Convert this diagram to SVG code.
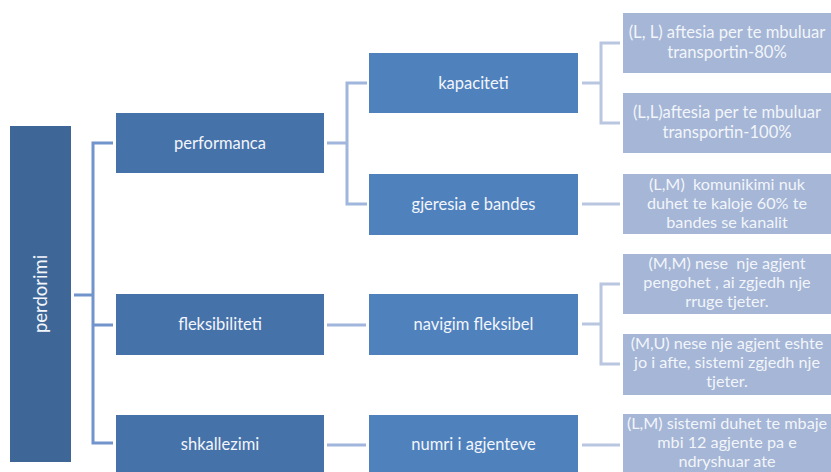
<svg xmlns="http://www.w3.org/2000/svg" width="831" height="472" viewBox="0 0 831 472">
  <style>
    .root { fill: #3e6797; }
    .l1 { fill: #4672aa; }
    .l2 { fill: #4f81bd; }
    .l3 { fill: #a5b6d6; }
    text { font-family: Lato, "Liberation Sans", sans-serif; fill: #f2f5fa; text-anchor: middle; }
    .r { font-size: 18.5px; }
    .t { font-size: 16.5px; }
    .d { font-size: 16.6px; }
    .s { font-size: 16.2px; }
    .c0 { stroke: #7294cc; stroke-width: 3; fill: none; }
    .c1 { stroke: #a1b6dc; stroke-width: 3; fill: none; }
    .c2 { stroke: #b9c6e0; stroke-width: 3; fill: none; }
  </style>

  <g id="connectors">
    <!-- perdorimi to its three children -->
    <path class="c0" d="M74,295 H93 M113,143 H93 V443 H113 M93,325 H113"/>
    <!-- performanca to kapaciteti / gjeresia e bandes -->
    <path class="c1" d="M327,143 H347 M367,83 H347 V204 H367"/>
    <!-- single links on level one -->
    <path class="c1" d="M327,325 H366 M327,445 H366"/>
    <!-- kapaciteti to its two requirements -->
    <path class="c2" d="M582,83 H601 M620,43 H601 V123 H620"/>
    <!-- navigim fleksibel to its two requirements -->
    <path class="c2" d="M582,324 H601 M620,284 H601 V364 H620"/>
    <!-- single links on level two -->
    <path class="c2" d="M582,204 H620 M582,445 H620"/>
  </g>

  <g id="perdorimi">
    <rect class="root" x="10" y="126" width="61" height="336"/>
    <text class="r" transform="translate(47,294) rotate(-90)">perdorimi</text>
  </g>

  <g id="performanca">
    <rect class="l1" x="116" y="113" width="208" height="60"/>
    <text class="t" x="220" y="149">performanca</text>
  </g>
  <g id="fleksibiliteti">
    <rect class="l1" x="116" y="294" width="208" height="61"/>
    <text class="t" x="220" y="330">fleksibiliteti</text>
  </g>
  <g id="shkallezimi">
    <rect class="l1" x="116" y="415" width="208" height="60"/>
    <text class="t" x="220" y="450">shkallezimi</text>
  </g>

  <g id="kapaciteti">
    <rect class="l2" x="369" y="53" width="209" height="60"/>
    <text class="t" x="473.5" y="89">kapaciteti</text>
  </g>
  <g id="gjeresia">
    <rect class="l2" x="369" y="174" width="209" height="61"/>
    <text class="t" x="473.5" y="210">gjeresia e bandes</text>
  </g>
  <g id="navigim">
    <rect class="l2" x="369" y="294" width="209" height="61"/>
    <text class="t" x="473.5" y="330">navigim fleksibel</text>
  </g>
  <g id="numri">
    <rect class="l2" x="369" y="415" width="209" height="60"/>
    <text class="t" x="473.5" y="450">numri i agjenteve</text>
  </g>

  <g id="req-ll-80">
    <rect class="l3" x="623" y="13" width="210" height="60"/>
    <text class="d" x="727" y="38">(L, L) aftesia per te mbuluar</text>
    <text class="d" x="727" y="58">transportin-80%</text>
  </g>
  <g id="req-ll-100">
    <rect class="l3" x="623" y="93" width="210" height="60"/>
    <text class="d" x="727" y="118">(L,L)aftesia per te mbuluar</text>
    <text class="d" x="727" y="138">transportin-100%</text>
  </g>
  <g id="req-lm-bandes">
    <rect class="l3" x="623" y="174" width="210" height="60"/>
    <text class="s" x="727" y="190" xml:space="preserve">(L,M)  komunikimi nuk</text>
    <text class="s" x="727" y="209">duhet te kaloje 60% te</text>
    <text class="s" x="727" y="228">bandes se kanalit</text>
  </g>
  <g id="req-mm">
    <rect class="l3" x="623" y="254" width="210" height="60"/>
    <text class="s" x="727" y="269" xml:space="preserve">(M,M) nese  nje agjent</text>
    <text class="s" x="727" y="288">pengohet , ai zgjedh nje</text>
    <text class="s" x="727" y="307">rruge tjeter.</text>
  </g>
  <g id="req-mu">
    <rect class="l3" x="623" y="334" width="210" height="61"/>
    <text class="s" x="727" y="349">(M,U) nese nje agjent eshte</text>
    <text class="s" x="727" y="368">jo i afte, sistemi zgjedh nje</text>
    <text class="s" x="727" y="387">tjeter.</text>
  </g>
  <g id="req-lm-agjente">
    <rect class="l3" x="623" y="414" width="210" height="60"/>
    <text class="s" x="727" y="429">(L,M) sistemi duhet te mbaje</text>
    <text class="s" x="727" y="448">mbi 12 agjente pa e</text>
    <text class="s" x="727" y="467">ndryshuar ate</text>
  </g>
</svg>
